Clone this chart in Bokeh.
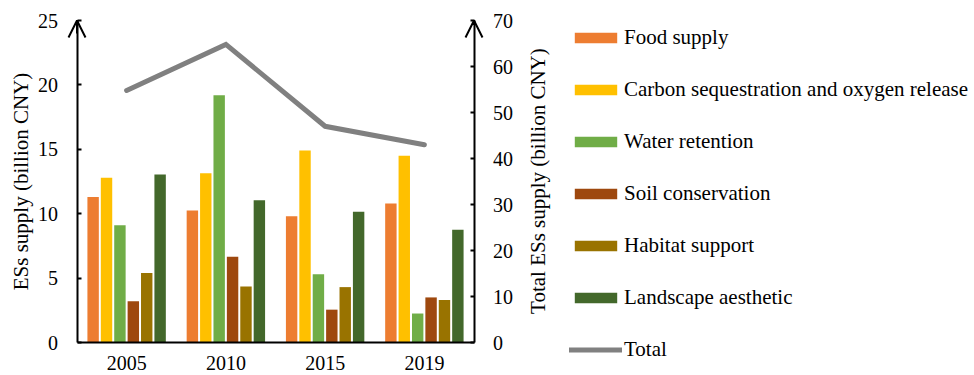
import math
from bokeh.plotting import figure
from bokeh.models import (Range1d, LinearAxis, FixedTicker, Legend,
                          LegendItem, Arrow, OpenHead, ColumnDataSource, Label)
from bokeh.transform import dodge
from bokeh.embed import file_html
from bokeh.resources import INLINE

# ---------------- data ----------------
years = ["2005", "2010", "2015", "2019"]
food_supply = [11.3, 10.25, 9.8, 10.8]
carbon_oxygen = [12.8, 13.15, 14.9, 14.5]
water_retention = [9.1, 19.2, 5.3, 2.25]
soil_conservation = [3.2, 6.65, 2.55, 3.5]
habitat_support = [5.4, 4.35, 4.3, 3.3]
landscape_aesthetic = [13.05, 11.05, 10.15, 8.75]
total = [54.8, 64.8, 47.0, 43.0]

series_labels = ["Food supply", "Carbon sequestration and oxygen release",
                 "Water retention", "Soil conservation", "Habitat support",
                 "Landscape aesthetic"]
total_label = "Total"
left_ticks = [0, 5, 10, 15, 20, 25]
right_ticks = [0, 10, 20, 30, 40, 50, 60, 70]
left_max, right_max = 25, 70
left_title = "ESs supply (billion CNY)"
right_title = "Total ESs supply (billion  CNY)"

# ---------------- style / layout (pixels) ----------------
colors = ["#ED7D31", "#FFC000", "#70AD47", "#9E480E", "#997300", "#43682B"]
FONT = "Liberation Serif"
W, H = 974, 375
AX_LEFT, AX_RIGHT = 76.5, 473.5      # pixel x of the two value axes
AX_TOP, AX_BOTTOM = 20, 342          # pixel y of max / zero
n = len(years)
px_per_cat = (AX_RIGHT - AX_LEFT) / n
px_per_val = (AX_BOTTOM - AX_TOP) / left_max
scale_r = right_max / left_max

centers = [i + 0.5 for i in range(n)]   # category slots on the x scale

src = ColumnDataSource(dict(
    xc=centers, s0=food_supply, s1=carbon_oxygen, s2=water_retention,
    s3=soil_conservation, s4=habitat_support, s5=landscape_aesthetic,
    total=total))

y0 = -(H - AX_BOTTOM) / px_per_val
y1 = left_max + AX_TOP / px_per_val
p = figure(x_range=Range1d(-AX_LEFT / px_per_cat, (W - AX_LEFT) / px_per_cat),
           y_range=Range1d(y0, y1),
           width=W, height=H,
           min_border=0, min_border_left=0, min_border_right=0,
           min_border_top=0, min_border_bottom=0,
           x_axis_location=None, y_axis_location=None,
           output_backend="svg", toolbar_location=None,
           outline_line_color=None, background_fill_color="white",
           border_fill_color="white")
p.extra_y_ranges = {"right": Range1d(y0 * scale_r, y1 * scale_r)}
p.xgrid.visible = False
p.ygrid.visible = False

step = 0.135
bar_renderers = []
for i in range(6):
    off = (i - 2.5) * step
    r = p.vbar(x=dodge("xc", off), top="s%d" % i, bottom=0,
               width=0.115, source=src, fill_color=colors[i],
               line_color=None)
    bar_renderers.append(r)

line_r = p.line(x="xc", y="total", source=src, y_range_name="right",
                line_color="#808080", line_width=5, line_cap="round",
                line_join="miter")


def style_axis(ax):
    ax.axis_line_width = 2
    ax.axis_line_color = "black"
    ax.major_tick_line_width = 2
    ax.major_tick_line_color = "black"
    ax.minor_tick_line_color = None
    ax.major_label_text_font = FONT
    ax.major_label_text_font_size = "20px"
    ax.major_label_text_color = "black"
    ax.axis_label_text_font = FONT
    ax.axis_label_text_font_size = "21px"
    ax.axis_label_text_font_style = "normal"
    ax.axis_label_text_color = "black"


xa = LinearAxis(fixed_location=0, bounds=(0, n),
                ticker=FixedTicker(ticks=centers, minor_ticks=[]),
                major_label_overrides={c: y for c, y in zip(centers, years)})
style_axis(xa)
xa.major_tick_in = 0
xa.major_tick_out = 0
xa.major_label_standoff = 13
p.add_layout(xa, "below")

ya = LinearAxis(fixed_location=0, bounds=(0, left_max),
                ticker=FixedTicker(ticks=left_ticks, minor_ticks=[]))
style_axis(ya)
ya.major_tick_in = 4
ya.major_tick_out = 0
ya.major_label_standoff = 19
ya.axis_label = left_title
ya.axis_label_standoff = 3
p.add_layout(ya, "left")

ra = LinearAxis(y_range_name="right", fixed_location=n,
                bounds=(0, right_max),
                ticker=FixedTicker(ticks=right_ticks, minor_ticks=[]))
style_axis(ra)
ra.major_tick_in = 4
ra.major_tick_out = 0
ra.major_label_standoff = 19
p.add_layout(ra, "right")

# right axis title, reading bottom to top like the left one
p.add_layout(Label(x=537, y=H - (AX_TOP + AX_BOTTOM) / 2 + 3,
                   x_units="screen", y_units="screen",
                   text=right_title, angle=math.pi / 2,
                   text_align="center", text_baseline="middle",
                   text_font=FONT, text_font_size="21px",
                   text_color="black"))

# arrow heads on the vertical axes
p.add_layout(Arrow(x_start=0, y_start=left_max - 1, x_end=0, y_end=left_max,
                   line_width=2, line_color="black",
                   end=OpenHead(size=17, line_width=2, line_color="black")))
p.add_layout(Arrow(x_start=n, y_start=right_max - 1, x_end=n, y_end=right_max,
                   y_range_name="right", line_width=2, line_color="black",
                   end=OpenHead(size=17, line_width=2, line_color="black")))

items = [LegendItem(label=series_labels[i], renderers=[bar_renderers[i]])
         for i in range(6)]
items.append(LegendItem(label=total_label, renderers=[line_r]))
legend = Legend(items=items, location=(569, 13),
                glyph_width=53, glyph_height=13, label_height=24,
                spacing=27, padding=0, margin=0, label_standoff=2,
                border_line_color=None, background_fill_alpha=0,
                label_text_font=FONT, label_text_font_size="21px",
                label_text_color="black")
p.add_layout(legend)

open("out.html", "w").write(file_html(p, INLINE))
